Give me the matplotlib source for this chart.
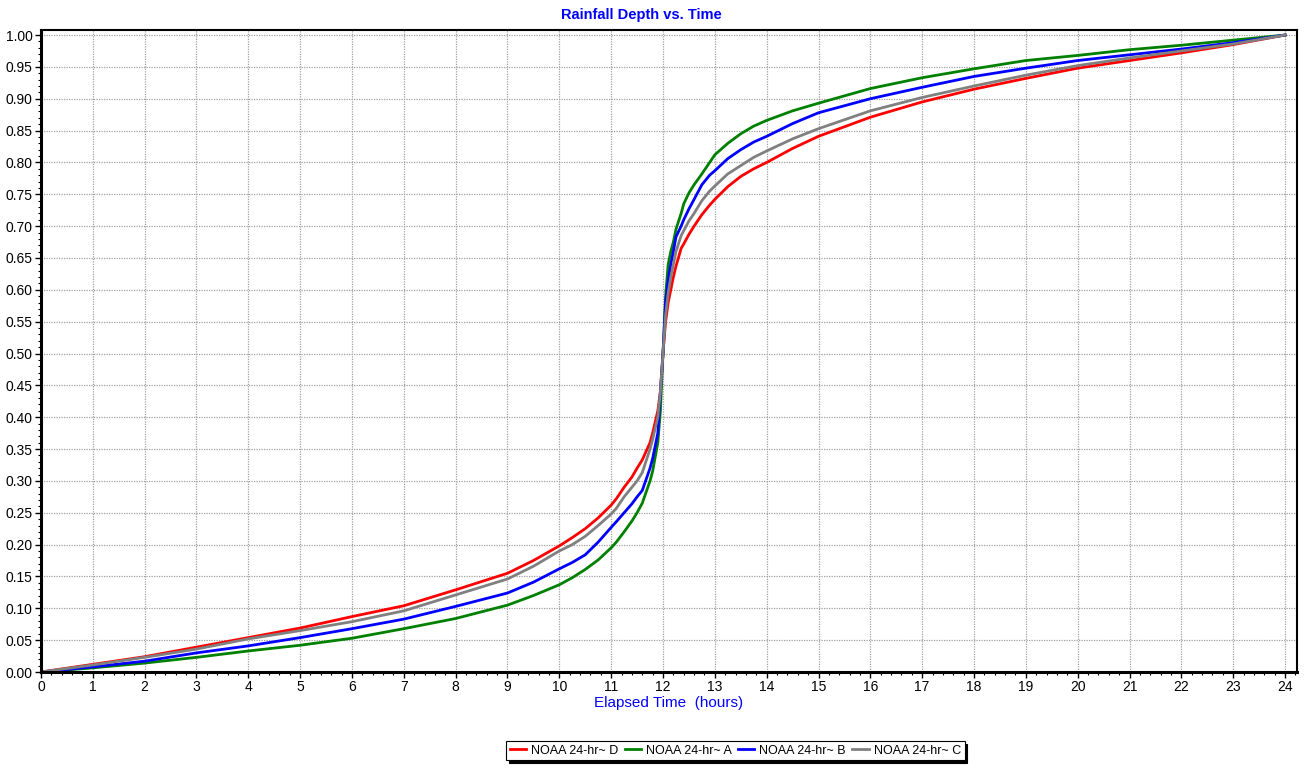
import numpy as np
import matplotlib
matplotlib.use("Agg")
import matplotlib.pyplot as plt
from matplotlib.ticker import MultipleLocator, FormatStrFormatter

# elapsed time (hours) and cumulative rainfall fraction
hours = [0, 1, 2, 3, 4, 5, 6, 7, 8, 9, 9.5, 10, 10.25, 10.5, 10.75, 11, 11.1,
         11.25, 11.4, 11.5, 11.6, 11.75, 11.8, 11.9, 11.95, 12, 12.05, 12.1,
         12.15, 12.2, 12.25, 12.35, 12.4, 12.5, 12.6, 12.75, 12.9, 13, 13.25,
         13.5, 13.75, 14, 14.5, 15, 16, 17, 18, 19, 20, 21, 22, 23, 24]

noaa_d = [0, 0.012, 0.024, 0.039, 0.054, 0.069, 0.087, 0.104, 0.129, 0.155,
          0.175, 0.198, 0.211, 0.225, 0.242, 0.262, 0.272, 0.290, 0.306, 0.320,
          0.333, 0.360, 0.375, 0.410, 0.440, 0.500, 0.550, 0.580, 0.600, 0.620,
          0.637, 0.665, 0.672, 0.687, 0.700, 0.718, 0.733, 0.742, 0.762, 0.778,
          0.790, 0.800, 0.822, 0.841, 0.871, 0.895, 0.915, 0.932, 0.948, 0.960,
          0.972, 0.985, 1.0]
noaa_a = [0, 0.0065, 0.014, 0.023, 0.033, 0.042, 0.053, 0.068, 0.084, 0.105,
          0.120, 0.137, 0.148, 0.161, 0.176, 0.195, 0.204, 0.220, 0.237, 0.250,
          0.265, 0.300, 0.315, 0.360, 0.410, 0.500, 0.590, 0.640, 0.660, 0.675,
          0.695, 0.720, 0.735, 0.752, 0.765, 0.782, 0.800, 0.812, 0.830, 0.845,
          0.857, 0.866, 0.881, 0.893, 0.916, 0.933, 0.947, 0.960, 0.968, 0.977,
          0.984, 0.992, 1.0]
noaa_b = [0, 0.008, 0.017, 0.030, 0.041, 0.054, 0.068, 0.083, 0.103, 0.124,
          0.141, 0.162, 0.172, 0.184, 0.204, 0.227, 0.236, 0.250, 0.264, 0.275,
          0.285, 0.320, 0.335, 0.375, 0.440, 0.500, 0.580, 0.615, 0.640, 0.660,
          0.683, 0.700, 0.710, 0.727, 0.742, 0.765, 0.780, 0.787, 0.806, 0.820,
          0.832, 0.841, 0.861, 0.878, 0.900, 0.918, 0.935, 0.948, 0.960, 0.969,
          0.978, 0.988, 1.0]
noaa_c = [0, 0.011, 0.023, 0.036, 0.052, 0.065, 0.079, 0.096, 0.121, 0.146,
          0.166, 0.190, 0.200, 0.213, 0.230, 0.248, 0.257, 0.275, 0.290, 0.300,
          0.313, 0.350, 0.365, 0.400, 0.440, 0.500, 0.560, 0.595, 0.620, 0.640,
          0.660, 0.685, 0.693, 0.708, 0.720, 0.740, 0.755, 0.763, 0.782, 0.795,
          0.808, 0.818, 0.837, 0.853, 0.881, 0.902, 0.920, 0.937, 0.952, 0.964,
          0.975, 0.986, 1.0]

series = [
    ("NOAA 24-hr~ D", noaa_d, "#ff0000"),
    ("NOAA 24-hr~ A", noaa_a, "#008000"),
    ("NOAA 24-hr~ B", noaa_b, "#0000ff"),
    ("NOAA 24-hr~ C", noaa_c, "#808080"),
]

plt.rcParams['font.family'] = ['Liberation Sans', 'DejaVu Sans']

fig = plt.figure(figsize=(13.04, 7.68), dpi=100)
ax = fig.add_axes([0.0314, 0.125, 0.9632, 0.836])

for label, vals, color in series:
    ax.plot(hours, vals, color=color, lw=2.0, label=label)

ax.set_xlim(0, 24.23)
ax.set_ylim(0, 1.008)
ax.xaxis.set_major_locator(MultipleLocator(1))
ax.xaxis.set_minor_locator(MultipleLocator(0.2))
ax.yaxis.set_major_locator(MultipleLocator(0.05))
ax.yaxis.set_minor_locator(MultipleLocator(0.01))
ax.yaxis.set_major_formatter(FormatStrFormatter('%.2f'))
ax.tick_params(which='major', direction='out', length=4, width=1, labelsize=10, pad=2)
ax.tick_params(which='minor', direction='out', length=2, width=0.8)

ax.grid(True, which='major', color='#a0a0a0', linestyle=(0, (1, 1)), linewidth=0.9)

for side in ['left', 'bottom']:
    ax.spines[side].set_linewidth(2.2)
for side in ['top', 'right']:
    ax.spines[side].set_linewidth(1.5)

ax.set_xlabel("Elapsed Time  (hours)", color='#0000ff', fontsize=11, labelpad=1)
fig.text(0.492, 0.981, "Rainfall Depth vs. Time", color='#0000ff',
         fontsize=10.5, fontweight='bold', ha='center', va='center')

leg = fig.legend(loc='center', bbox_to_anchor=(0.564, 0.0225), ncol=4,
                 fontsize=9, frameon=True, fancybox=False,
                 shadow={'color': 'black', 'alpha': 1},
                 handlelength=1.3, handletextpad=0.4, columnspacing=0.5,
                 borderpad=0.3, borderaxespad=0)
leg.get_frame().set_edgecolor('black')
leg.get_frame().set_linewidth(0.8)

plt.savefig("out.png", dpi=100)
